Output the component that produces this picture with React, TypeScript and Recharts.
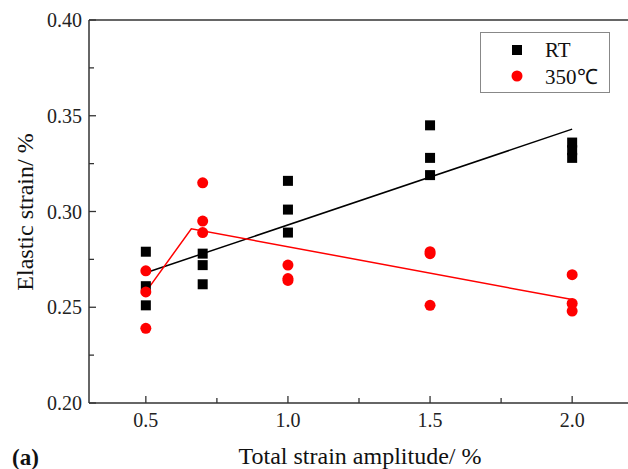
import { ScatterChart, Scatter, XAxis, YAxis, ReferenceLine } from 'recharts';

// strain amplitude levels (%)
const amplitudes = [0.5, 0.7, 1.0, 1.5, 2.0];

// elastic strain readings at each amplitude (%)
const rtValues = [
  [0.279, 0.261, 0.251],
  [0.278, 0.272, 0.262],
  [0.316, 0.301, 0.289],
  [0.345, 0.328, 0.319],
  [0.336, 0.332, 0.328],
];
const hotValues = [
  [0.269, 0.258, 0.239],
  [0.315, 0.295, 0.289],
  [0.272, 0.265, 0.264],
  [0.279, 0.278, 0.251],
  [0.267, 0.252, 0.248],
];

// trend lines
const rtFitX = [0.5, 2.0];
const rtFitY = [0.268, 0.343];
const hotFitX = [0.5, 0.66, 2.0];
const hotFitY = [0.258, 0.291, 0.254];

const xMajor = [0.5, 1.0, 1.5, 2.0];
const xMinor = [0.75, 1.25, 1.75];
const yMajor = [0.2, 0.25, 0.3, 0.35, 0.4];
const yMinor = [0.225, 0.275, 0.325, 0.375];

const seriesNames = ['RT', '350℃'];

const toPoints = (vals: number[][]) =>
  amplitudes.flatMap((a, i) => vals[i].map((v) => ({ x: a, y: v })));
const toLine = (xs: number[], ys: number[]) => xs.map((x, i) => ({ x, y: ys[i] }));

const rtData = toPoints(rtValues);
const hotData = toPoints(hotValues);
const rtFit = toLine(rtFitX, rtFitY);
const hotFit = toLine(hotFitX, hotFitY);

const FONT = '"Liberation Serif", "Times New Roman", serif';
const AXIS = '#333';
const serif = { fontFamily: FONT };

const Square = (p: any) => <rect x={p.cx - 5} y={p.cy - 5} width={10} height={10} fill="#000" />;
const Dot = (p: any) => <circle cx={p.cx} cy={p.cy} r={5.5} fill="#ff0000" />;
const NoShape = () => <g />;

const XTick = (p: any) => {
  const v = p.payload.value;
  const major = xMajor.some((m) => Math.abs(m - v) < 1e-6);
  return (
    <g>
      <line x1={p.x} x2={p.x} y1={p.y} y2={p.y - (major ? 7 : 5)} stroke={AXIS} strokeWidth={1.3} />
      {major && (
        <text x={p.x} y={p.y + 24} textAnchor="middle" fontSize={20} style={serif} fill="#222">
          {v.toFixed(1)}
        </text>
      )}
    </g>
  );
};

const YTick = (p: any) => {
  const v = p.payload.value;
  const major = yMajor.some((m) => Math.abs(m - v) < 1e-6);
  return (
    <g>
      <line x1={p.x} x2={p.x + (major ? 7 : 5)} y1={p.y} y2={p.y} stroke={AXIS} strokeWidth={1.3} />
      {major && (
        <text x={p.x - 7} y={p.y + 7} textAnchor="end" fontSize={20} style={serif} fill="#222">
          {v.toFixed(2)}
        </text>
      )}
    </g>
  );
};

export default function App() {
  return (
    <div style={{ position: 'absolute', left: 0, top: 0, width: 628, height: 469, overflow: 'hidden', background: '#fff' }}>
      <ScatterChart width={640} height={469} margin={{ top: 20, right: 11, bottom: 0, left: 0 }}>
        <XAxis
          type="number"
          dataKey="x"
          domain={[0.3, 2.2]}
          ticks={[...xMajor, ...xMinor].sort((a, b) => a - b)}
          allowDataOverflow
          height={66}
          tickSize={0}
          tickMargin={0}
          tickLine={false}
          tick={<XTick />}
          axisLine={{ stroke: AXIS, strokeWidth: 1.5 }}
        />
        <YAxis
          type="number"
          dataKey="y"
          domain={[0.2, 0.4]}
          ticks={[...yMajor, ...yMinor].sort((a, b) => a - b)}
          allowDataOverflow
          width={89}
          tickSize={0}
          tickMargin={0}
          tickLine={false}
          tick={<YTick />}
          axisLine={{ stroke: AXIS, strokeWidth: 1.5 }}
        />
        <ReferenceLine y={0.4} stroke={AXIS} strokeWidth={1.5} ifOverflow="visible" />
        <Scatter data={rtFit} line={{ stroke: '#000', strokeWidth: 1.5 }} shape={<NoShape />} isAnimationActive={false} legendType="none" />
        <Scatter data={hotFit} line={{ stroke: '#ff0000', strokeWidth: 1.5 }} shape={<NoShape />} isAnimationActive={false} legendType="none" />
        <Scatter name={seriesNames[0]} data={rtData} shape={<Square />} isAnimationActive={false} />
        <Scatter name={seriesNames[1]} data={hotData} shape={<Dot />} isAnimationActive={false} />
      </ScatterChart>
      <svg width={628} height={469} style={{ position: 'absolute', left: 0, top: 0, pointerEvents: 'none', ...serif }}>
        {/* legend */}
        <rect x={480.5} y={32.5} width={129} height={60} fill="#fff" stroke="#888" strokeWidth={1} />
        <rect x={512} y={45} width={10} height={10} fill="#000" />
        <circle cx={517} cy={76} r={5.5} fill="#ff0000" />
        <text x={545} y={57} fontSize={21} fill="#111" style={serif}>{seriesNames[0]}</text>
        <text x={545} y={84} fontSize={21} fill="#111" style={serif}>{seriesNames[1]}</text>
        {/* titles */}
        <text transform="translate(33,212) rotate(-90)" textAnchor="middle" fontSize={24} fill="#111" style={serif}>
          Elastic strain/ %
        </text>
        <text x={360} y={464} textAnchor="middle" fontSize={24} fill="#111" style={serif}>
          Total strain amplitude/ %
        </text>
        <text x={12} y={465} fontSize={23} fontWeight="bold" fill="#111" style={serif}>
          (a)
        </text>
      </svg>
    </div>
  );
}
